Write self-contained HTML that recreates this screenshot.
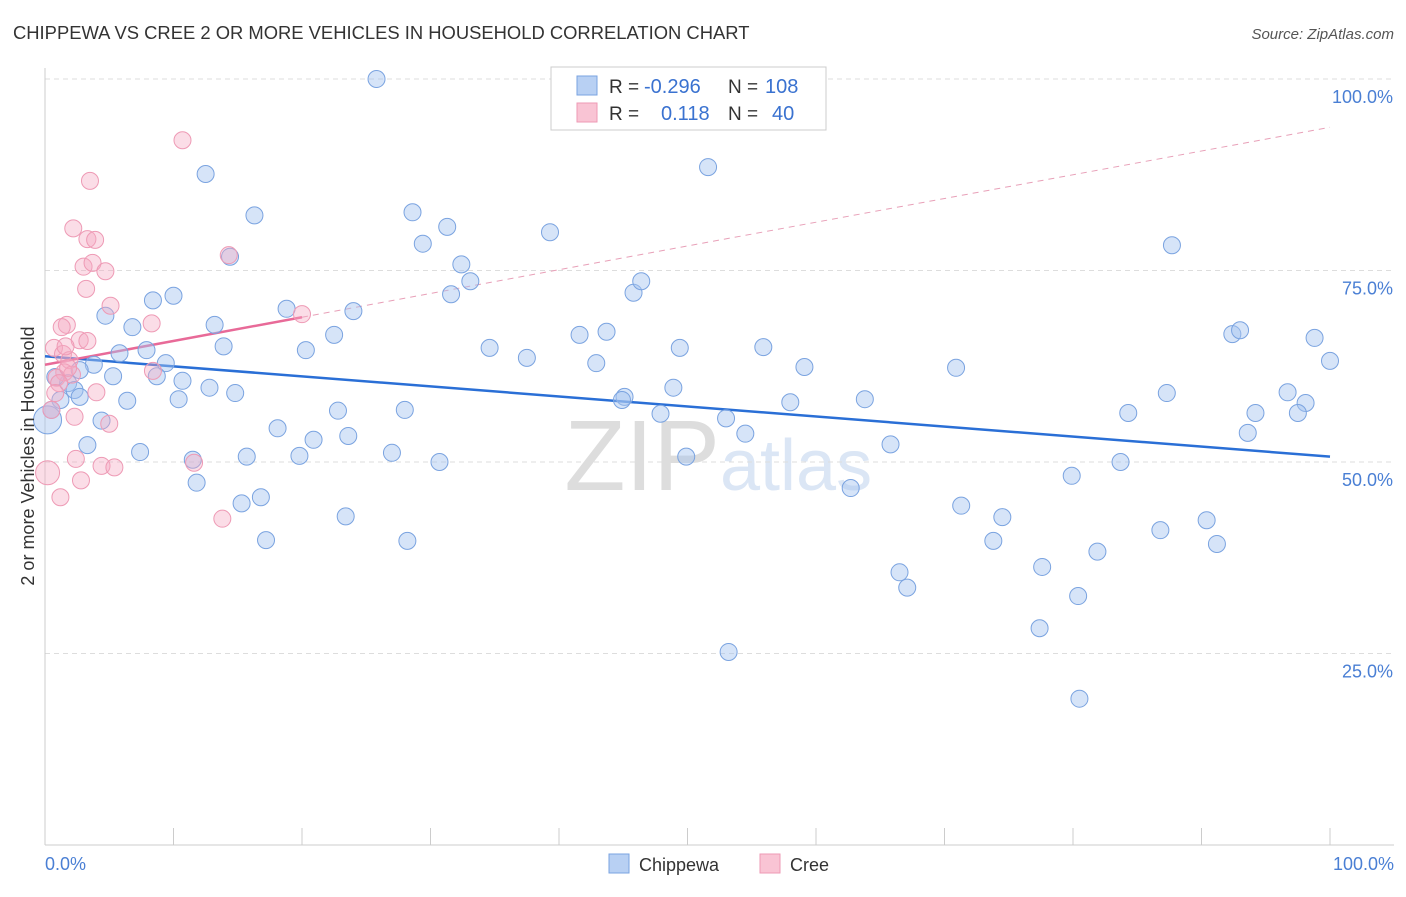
<!DOCTYPE html>
<html><head><meta charset="utf-8">
<style>
body{margin:0;background:#fff;font-family:"Liberation Sans",sans-serif;}
svg text{font-family:"Liberation Sans",sans-serif;}
</style></head><body>
<svg id="c" width="1406" height="892">
<text x="13" y="39" font-size="18.4" fill="#333">CHIPPEWA VS CREE 2 OR MORE VEHICLES IN HOUSEHOLD CORRELATION CHART</text>
<text x="1394" y="39" font-size="15" fill="#555" text-anchor="end" font-style="italic">Source: ZipAtlas.com</text>
<text x="720" y="490" font-size="100" fill="#ddd" text-anchor="end" font-family="Liberation Serif">ZIP</text>
<text x="720" y="490" font-size="72" fill="#dbe6f5">atlas</text>
<g id="grid"></g>
<g id="axes"></g>
<g id="lines"></g>
<g id="pts"></g>
<text transform="translate(34,456) rotate(-90)" font-size="18" fill="#333" text-anchor="middle">2 or more Vehicles in Household</text>
<text x="45" y="870" font-size="18" fill="#4a7fd4">0.0%</text>
<text x="1394" y="870" font-size="18" fill="#4a7fd4" text-anchor="end">100.0%</text>
<g>
<rect x="551" y="67" width="275" height="63" fill="#fff" stroke="#ccc"/>
<rect x="577" y="76" width="20" height="19" fill="#b8d0f3" stroke="#7aa3e0"/>
<rect x="577" y="103" width="20" height="19" fill="#f9c4d4" stroke="#ee9ab5"/>
<text x="609" y="93" font-size="19" fill="#333">R =</text>
<text x="644" y="93" font-size="20" fill="#3a72d0">-0.296</text>
<text x="728" y="93" font-size="19" fill="#333">N =</text>
<text x="765" y="93" font-size="20" fill="#3a72d0">108</text>
<text x="609" y="120" font-size="19" fill="#333">R =</text>
<text x="661" y="120" font-size="20" fill="#3a72d0">0.118</text>
<text x="728" y="120" font-size="19" fill="#333">N =</text>
<text x="772" y="120" font-size="20" fill="#3a72d0">40</text>
</g>
<g>
<rect x="609" y="854" width="20" height="19" fill="#b8d0f3" stroke="#7aa3e0"/>
<text x="639" y="871" font-size="18" fill="#333">Chippewa</text></g>
<g>
<rect x="760" y="854" width="20" height="19" fill="#f9c4d4" stroke="#ee9ab5"/>
<text x="790" y="871" font-size="18" fill="#333">Cree</text></g>
</svg>
<script>
const yTicks=[25,50,75,100];
const yTickLabels=["25.0%","50.0%","75.0%","100.0%"];
const chipX=[25.8,51.6,12.5,16.3,28.6,31.3,39.3,29.4,87.7,32.4,33.1,31.6,45.8,46.4,14.4,10.0,8.4,18.8,24.0,4.7,6.8,13.2,22.5,41.6,43.7,92.4,93.0,98.8,13.9,20.3,34.6,49.4,55.9,5.8,7.9,37.5,42.9,100.0,9.4,3.8,59.1,70.9,5.3,8.7,10.7,1.8,2.3,12.8,48.9,87.3,14.8,45.1,44.9,63.8,58.0,6.4,10.4,2.7,1.2,96.7,98.1,84.3,94.2,97.5,28.0,22.8,47.9,53.0,4.4,18.1,54.5,23.6,20.9,93.6,65.8,3.3,7.4,27.0,19.8,15.7,11.5,49.9,30.7,83.7,79.9,11.8,62.7,16.8,15.3,71.3,74.5,23.4,90.4,86.8,17.2,28.2,73.8,91.2,81.9,77.6,66.5,67.1,80.4,77.4,53.2,80.5,0.2,0.5,0.8,2.7];
const chipY=[100.0,88.5,87.6,82.2,82.6,80.7,80.0,78.5,78.3,75.8,73.6,71.9,72.1,73.6,76.8,71.7,71.1,70.0,69.7,69.1,67.6,67.9,66.6,66.6,67.0,66.7,67.2,66.2,65.1,64.6,64.9,64.9,65.0,64.2,64.6,63.6,62.9,63.2,62.9,62.7,62.4,62.3,61.2,61.2,60.6,60.3,59.4,59.7,59.7,59.0,59.0,58.5,58.1,58.2,57.8,58.0,58.2,58.5,58.1,59.1,57.7,56.4,56.4,56.4,56.8,56.7,56.3,55.7,55.4,54.4,53.7,53.4,52.9,53.8,52.3,52.2,51.3,51.2,50.8,50.7,50.3,50.7,50.0,50.0,48.2,47.3,46.6,45.4,44.6,44.3,42.8,42.9,42.4,41.1,39.8,39.7,39.7,39.3,38.3,36.3,35.6,33.6,32.5,28.3,25.2,19.1,55.5,56.8,61.1,62.0];
const creeX=[10.7,3.5,2.2,3.3,3.9,14.3,3.0,3.7,4.7,3.2,5.1,1.7,8.3,1.3,20.0,2.7,3.3,0.7,1.4,1.9,8.4,1.5,2.1,0.9,1.1,4.0,0.8,2.3,5.0,2.4,11.6,4.4,5.4,2.8,0.2,1.2,13.8,0.5,1.8,1.6];
const creeY=[92.0,86.7,80.5,79.1,79.0,77.0,75.5,76.0,74.9,72.6,70.4,67.9,68.1,67.6,69.3,65.9,65.8,64.9,64.1,63.3,61.9,61.7,61.4,61.0,60.3,59.1,59.0,55.9,55.0,50.4,49.9,49.5,49.3,47.6,48.6,45.4,42.6,56.8,62.3,65.1];
const chipTrend=[63.8,50.7];
const creeTrend=[62.7,93.7];
const NS="http://www.w3.org/2000/svg";
const X=v=>45+v*12.85, Y=v=>845-v*7.66;
function mk(t,a,p){const e=document.createElementNS(NS,t);for(const k in a)e.setAttribute(k,a[k]);p.appendChild(e);return e;}
const grid=document.getElementById('grid'),axes=document.getElementById('axes'),lines=document.getElementById('lines'),pts=document.getElementById('pts');
yTicks.forEach((t,i)=>{
 const l=mk('line',{x1:45,x2:1394,y1:Y(t),y2:Y(t),stroke:'#ddd','stroke-dasharray':'5,4'},grid);
 
 
 const tx=mk('text',{x:1393,y:Y(t)+24,'font-size':18,fill:'#4a7fd4','text-anchor':'end'},grid);
 tx.textContent=yTickLabels[i];
 
 
});
mk('line',{x1:45,x2:45,y1:68,y2:845,stroke:'#ccc'},axes);
mk('line',{x1:45,x2:1394,y1:845,y2:845,stroke:'#ccc'},axes);
for(let i=0;i<=10;i++){const t=mk('line',{x1:X(i*10),x2:X(i*10),y1:828,y2:845,stroke:'#ccc'},axes);
 
 }
const bl=mk('line',{x1:X(0),y1:Y(chipTrend[0]),x2:X(100),y2:Y(chipTrend[1]),stroke:'#2a6fd6','stroke-width':2.5},lines);


const cy=x=>creeTrend[0]+(creeTrend[1]-creeTrend[0])*x/100;
const pd=mk('line',{x1:X(20),y1:Y(cy(20)),x2:X(100),y2:Y(cy(100)),stroke:'#e8a0b8','stroke-width':1,'stroke-dasharray':'6,5'},lines);


const ps=mk('line',{x1:X(0),y1:Y(cy(0)),x2:X(20),y2:Y(cy(20)),stroke:'#e86a98','stroke-width':2.5},lines);


chipX.forEach((x,i)=>{const r=i==chipX.length-4?14:8.5;
 const c=mk('circle',{cx:X(x),cy:Y(chipY[i]),r:r,fill:'rgba(164,196,240,0.45)',stroke:'#7aa3e0','stroke-width':1},pts);
 
 });
creeX.forEach((x,i)=>{const r=i==34?12:8.5;
 const c=mk('circle',{cx:X(x),cy:Y(creeY[i]),r:r,fill:'rgba(245,170,195,0.4)',stroke:'#ee9ab5','stroke-width':1},pts);
 
 });
</script>
</body></html>
